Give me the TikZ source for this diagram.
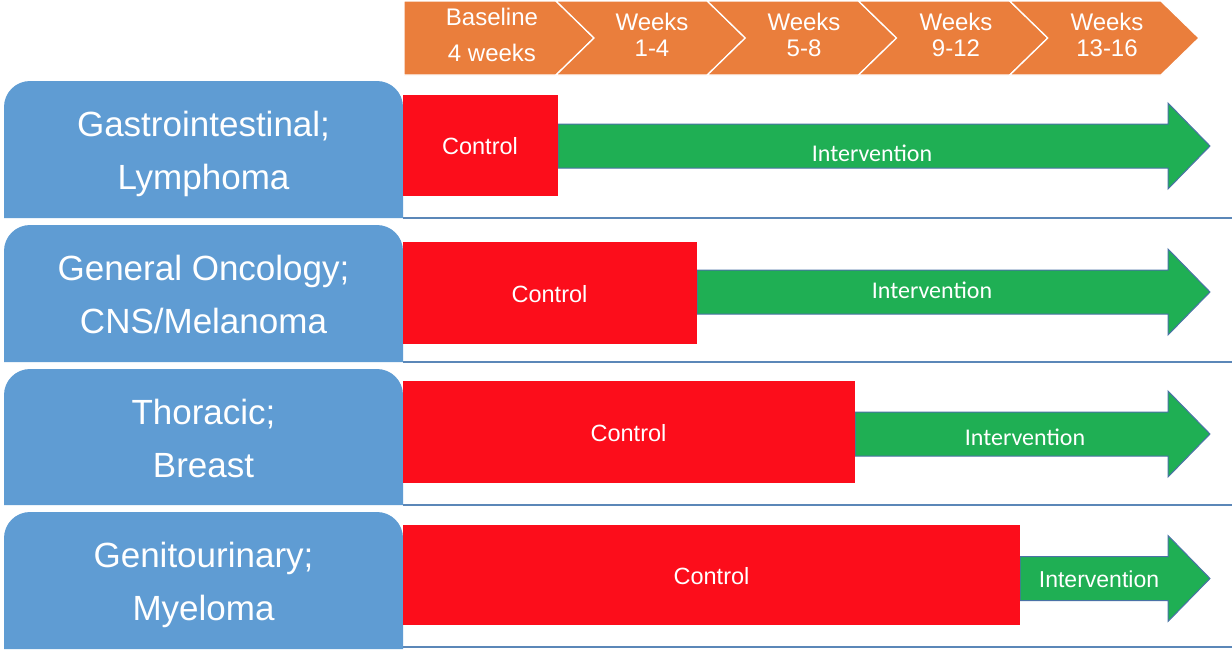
\documentclass[tikz,border=0pt]{standalone}
\usepackage{fontspec}
\setmainfont{Liberation Sans}
\newfontfamily\calfont{Carlito}
\definecolor{chevorange}{HTML}{EA7E3C}
\definecolor{tabblue}{HTML}{5F9CD3}
\definecolor{ctrlred}{HTML}{FC0D1B}
\definecolor{intgreen}{HTML}{1FAF54}
\definecolor{arrowedge}{HTML}{4A72A6}
\definecolor{rowrule}{HTML}{5B87B8}
\begin{document}
\begin{tikzpicture}[x=1pt,y=-1pt,
  chevron/.style={fill=chevorange,draw=white,line width=1.3pt,line join=miter},
  chevtext/.style={text=white,anchor=base,inner sep=0pt,font=\fontsize{24}{26}\selectfont},
  tabshape/.style={fill=tabblue},
  tabtext/.style={text=white,anchor=base,inner sep=0pt,font=\fontsize{35}{38}\selectfont},
  ctrlbox/.style={fill=ctrlred},
  ctrltext/.style={text=white,inner sep=0pt,font=\fontsize{23.5}{25}\selectfont},
  intarrow/.style={fill=intgreen,draw=arrowedge,line width=1pt,line join=miter},
  inttext/.style={text=white,inner sep=0pt,font=\calfont\fontsize{24}{26}\selectfont},
  inttextB/.style={text=white,inner sep=0pt,font=\fontsize{23}{25}\selectfont},
  rowline/.style={draw=rowrule,line width=1.6pt}]
\useasboundingbox (0,0) rectangle (1232,649);
\fill[white] (0,0) rectangle (1232,649);

% ---- timeline chevrons ----
\path[chevron] (404,1) -- (556,1) -- (594,38) -- (556,75) -- (404,75) -- cycle;
\foreach \i in {1,...,4}{
  \pgfmathsetmacro{\xl}{556+151.25*(\i-1)}
  \pgfmathsetmacro{\xr}{\xl+151.25}
  \path[chevron] (\xl,1) -- (\xr,1) -- (\xr+38,38) -- (\xr,75) -- (\xl,75) -- (\xl+38,38) -- cycle;
}
\node[chevtext] (c0a) at (492,25) {Baseline};
\node[chevtext] (c0b) at (492,61) {4 weeks};
\node[chevtext] (c1a) at (652,30) {Weeks};
\node[chevtext] (c1b) at (652,56) {1-4};
\node[chevtext] (c2a) at (804,30) {Weeks};
\node[chevtext] (c2b) at (804,56) {5-8};
\node[chevtext] (c3a) at (956,30) {Weeks};
\node[chevtext] (c3b) at (956,56) {9-12};
\node[chevtext] (c4a) at (1107,30) {Weeks};
\node[chevtext] (c4b) at (1107,56) {13-16};

% ---- row separators ----
\foreach \y in {218,362,505,647}{
  \draw[rowline] (403,\y) -- (1232,\y);
}

% ---- group tabs (rounded top corners) ----
\foreach \t/\b in {81/218,225/362,369/505,512/649}{
  \fill[tabshape] (4,\b) [rounded corners=26pt] -- (4,\t) -- (403,\t) [sharp corners] -- (403,\b) -- cycle;
}
\node[tabtext] (g1a) at (203.5,136) {Gastrointestinal;};
\node[tabtext] (g1b) at (203.5,189) {Lymphoma};
\node[tabtext] (g2a) at (203.5,280) {General Oncology;};
\node[tabtext] (g2b) at (203.5,333) {CNS/Melanoma};
\node[tabtext] (g3a) at (203.5,424) {Thoracic;};
\node[tabtext] (g3b) at (203.5,477) {Breast};
\node[tabtext] (g4a) at (203.5,567) {Genitourinary;};
\node[tabtext] (g4b) at (203.5,620) {Myeloma};

% ---- intervention arrows: start x / centre y ----
\foreach \s/\c in {558/146,697/292,855/434,1020/578.5}{
  \path[intarrow] (\s,\c-22) -- (1168,\c-22) -- (1168,\c-43) -- (1210,\c)
     -- (1168,\c+43) -- (1168,\c+22) -- (\s,\c+22) -- cycle;
}

% ---- control periods ----
\fill[ctrlbox] (403,95) rectangle (558,196);
\fill[ctrlbox] (403,242) rectangle (697,344);
\fill[ctrlbox] (403,381) rectangle (855,483);
\fill[ctrlbox] (403,525) rectangle (1020,625);

\node[ctrltext] (k1) at (480,146) {Control};
\node[ctrltext] (k2) at (549.5,294) {Control};
\node[ctrltext] (k3) at (628.5,433) {Control};
\node[ctrltext] (k4) at (711.5,576) {Control};

\node[inttext] (i1) at (872,153.5) {Intervention};
\node[inttext] (i2) at (932,290) {Intervention};
\node[inttext] (i3) at (1025,437.5) {Intervention};
\node[inttextB] (i4) at (1099,579.5) {Intervention};
\end{tikzpicture}
\end{document}
